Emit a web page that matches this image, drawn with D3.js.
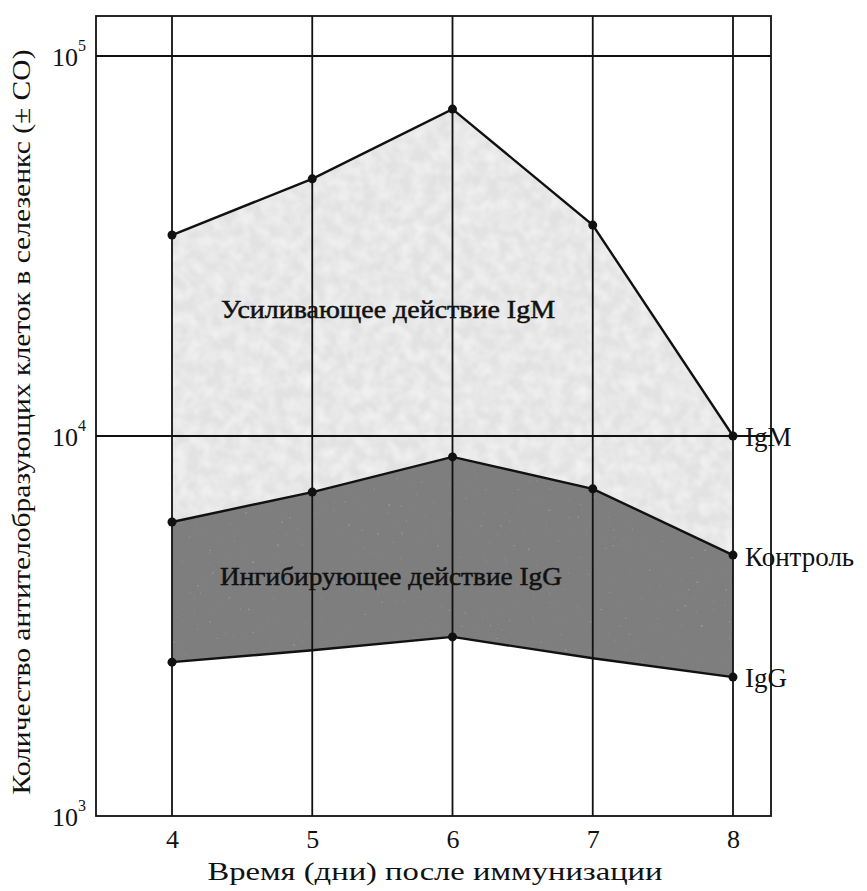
<!DOCTYPE html>
<html><head><meta charset="utf-8">
<script src="https://cdn.jsdelivr.net/npm/d3@7"></script>
<style>
body{margin:0;background:#fff;}
text{font-family:"Liberation Serif","DejaVu Serif",serif;fill:#111;}
</style></head>
<body><svg id="chart" width="867" height="891"></svg>
<script>
// Days after immunisation
const days = [4, 5, 6, 7, 8];
// Antibody-forming cells per spleen
const igmValues = [33800, 47500, 72500, 35900, 10000];
const controlValues = [5940, 7120, 8810, 7260, 4860];
const iggValues = [2540, 2730, 2960, 2600, 2320];
// Days at which the IgG curve carries a point marker
const iggMarkedDays = [4, 6, 8];
const yTickExponents = [3, 4, 5];
const gridExponents = [4, 5];

const svg = d3.select("#chart");
const pLeft = 96, pRight = 771, pTop = 16, pBottom = 816;

const x = d3.scaleLinear().domain([4 - 76 / 140.25, 8 + 38 / 140.25]).range([pLeft, pRight]);
const y = d3.scaleLog().domain([1000, Math.pow(10, 5 + 40 / 380)]).range([pBottom, pTop]);

// mottled print texture for the shaded bands
const defs = svg.append("defs");
function mottle(id, freq, seed, amount) {
  const f = defs.append("filter").attr("id", id).attr("x", 0).attr("y", 0).attr("width", 1).attr("height", 1);
  f.append("feTurbulence").attr("type", "fractalNoise").attr("baseFrequency", freq).attr("numOctaves", 2).attr("seed", seed).attr("result", "n");
  f.append("feColorMatrix").attr("in", "n").attr("type", "matrix")
    .attr("values", `0 0 0 0 0  0 0 0 0 0  0 0 0 0 0  0 0 0 -0.9 ${amount}`).attr("result", "a");
  f.append("feFlood").attr("flood-color", "#ffffff").attr("result", "w");
  f.append("feComposite").attr("in", "w").attr("in2", "a").attr("operator", "in").attr("result", "spots");
  f.append("feComposite").attr("in", "spots").attr("in2", "SourceGraphic").attr("operator", "atop");
}
mottle("mottleLight", 0.08, 3, 0.62);
mottle("mottleDark", 0.25, 7, 0.22);

const rows = days.map((d, i) => ({d, igm: igmValues[i], ctl: controlValues[i], igg: iggValues[i]}));

// shaded bands
svg.append("path")
  .datum(rows)
  .attr("d", d3.area().x(r => x(r.d)).y0(r => y(r.ctl)).y1(r => y(r.igm)))
  .attr("fill", "#e2e2e2")
  .attr("filter", "url(#mottleLight)");
svg.append("path")
  .datum(rows)
  .attr("d", d3.area().x(r => x(r.d)).y0(r => y(r.igg)).y1(r => y(r.ctl)))
  .attr("fill", "#7e7e7e")
  .attr("filter", "url(#mottleDark)");

// grid
const g = svg.append("g").attr("stroke", "#111").attr("stroke-width", 1.8);
days.forEach(d => g.append("line").attr("x1", x(d)).attr("x2", x(d)).attr("y1", pTop).attr("y2", pBottom));
gridExponents.forEach(e => g.append("line").attr("x1", pLeft).attr("x2", pRight).attr("y1", y(Math.pow(10, e))).attr("y2", y(Math.pow(10, e))));
svg.append("rect").attr("x", pLeft).attr("y", pTop).attr("width", pRight - pLeft).attr("height", pBottom - pTop)
  .attr("fill", "none").attr("stroke", "#111").attr("stroke-width", 1.8);

// curves
const line = key => d3.line().x(r => x(r.d)).y(r => y(r[key]));
["igm", "ctl", "igg"].forEach(k => {
  svg.append("path").datum(rows).attr("d", line(k)).attr("fill", "none").attr("stroke", "#111").attr("stroke-width", 2.4);
});
const dots = svg.append("g").attr("fill", "#111");
rows.forEach(r => {
  dots.append("circle").attr("cx", x(r.d)).attr("cy", y(r.igm)).attr("r", 4.5);
  dots.append("circle").attr("cx", x(r.d)).attr("cy", y(r.ctl)).attr("r", 4.5);
  if (iggMarkedDays.includes(r.d)) dots.append("circle").attr("cx", x(r.d)).attr("cy", y(r.igg)).attr("r", 4.5);
});

// axis tick labels
const xa = svg.append("g").attr("transform", `translate(0,${pBottom})`)
  .call(d3.axisBottom(x).tickValues(days).tickSize(0).tickPadding(14).tickFormat(d3.format("d")));
xa.select(".domain").remove();
xa.selectAll("text").attr("font-size", 26).attr("font-family", "Liberation Serif, serif").attr("fill", "#111");

yTickExponents.forEach(e => {
  const t = svg.append("text").attr("x", 52).attr("y", y(Math.pow(10, e)) + 10).attr("font-size", 26);
  t.append("tspan").text("10");
  t.append("tspan").attr("font-size", 16).attr("dy", -15).text(e);
});

// axis titles
svg.append("text").attr("x", 435).attr("y", 880).attr("text-anchor", "middle").attr("font-size", 26)
  .attr("textLength", 455).attr("lengthAdjust", "spacingAndGlyphs")
  .text("Время (дни) после иммунизации");
svg.append("text").attr("transform", "translate(30,422) rotate(-90)").attr("text-anchor", "middle").attr("font-size", 26)
  .attr("textLength", 745).attr("lengthAdjust", "spacingAndGlyphs")
  .text("Количество антителобразующих клеток в селезенкс (± СО)");

// band captions
svg.append("text").attr("x", 221).attr("y", 318).attr("font-size", 26)
  .attr("stroke", "#111").attr("stroke-width", 0.5)
  .attr("textLength", 334).attr("lengthAdjust", "spacingAndGlyphs")
  .text("Усиливающее действие IgM");
svg.append("text").attr("x", 220).attr("y", 585).attr("font-size", 26)
  .attr("stroke", "#111").attr("stroke-width", 0.5)
  .attr("textLength", 342).attr("lengthAdjust", "spacingAndGlyphs")
  .text("Ингибирующее действие IgG");

// series labels at the last day
const last = rows[rows.length - 1];
[["IgM", last.igm, 10], ["Контроль", last.ctl, 11], ["IgG", last.igg, 10]].forEach(([t, v, dy]) => {
  svg.append("text").attr("x", x(8) + 12).attr("y", y(v) + dy).attr("font-size", 27).text(t);
});
</script></body></html>
